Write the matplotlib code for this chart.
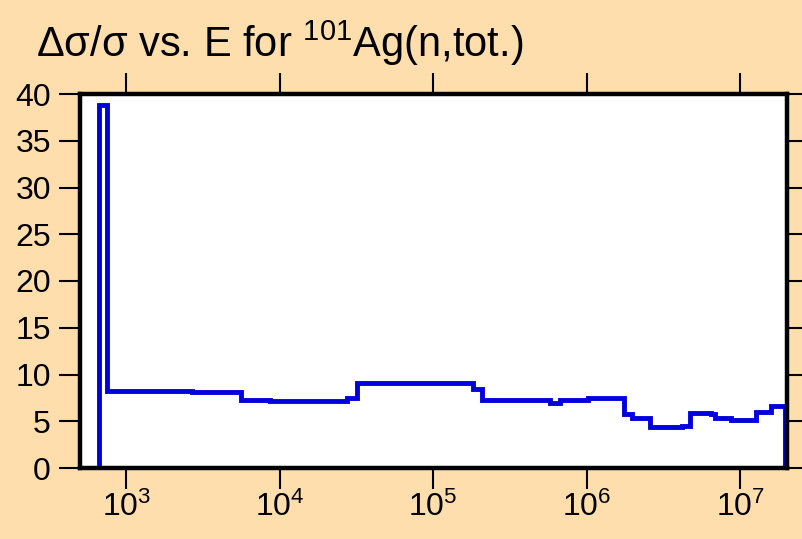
import matplotlib
matplotlib.use("Agg")
import matplotlib.pyplot as plt
import numpy as np

plt.rcParams['font.family'] = ['Liberation Sans', 'DejaVu Sans']
plt.rcParams['mathtext.fontset'] = 'custom'
plt.rcParams['mathtext.rm'] = 'Liberation Sans'
plt.rcParams['mathtext.it'] = 'Liberation Sans:italic'
plt.rcParams['mathtext.bf'] = 'Liberation Sans:bold'
plt.rcParams['mathtext.default'] = 'regular'

# Bin edges (eV) and relative uncertainty (%) per bin
energy_edges = [660, 755, 2680, 5600, 8660, 27400, 31800, 182000, 207000,
                575000, 670000, 1.02e6, 1.75e6, 1.96e6, 2.58e6, 4.15e6,
                4.70e6, 6.50e6, 6.83e6, 8.78e6, 1.277e7, 1.60e7, 1.97e7]
rel_unc = [38.8, 8.2, 8.1, 7.28, 7.2, 7.5, 9.1, 8.4,
           7.28, 7.0, 7.28, 7.45, 5.82, 5.39, 4.39, 4.53,
           5.93, 5.75, 5.39, 5.11, 6.03, 6.64]

yticks = [0, 5, 10, 15, 20, 25, 30, 35, 40]
xticks = [1e3, 1e4, 1e5, 1e6, 1e7]

bg = '#ffdead'
fig = plt.figure(figsize=(8.03, 5.39), dpi=100, facecolor=bg)
ax = fig.add_axes([80/803, 1-468/539, (787-80)/803, (468-94)/539])
ax.set_facecolor('white')

ax.stairs(rel_unc, energy_edges, baseline=0, color='#0000dd', linewidth=3.5)

ax.set_xscale('log')
ax.set_xlim(500, 2.02e7)
ax.set_ylim(0, 40)
ax.set_yticks(yticks)
ax.set_xticks(xticks)
ax.xaxis.set_minor_locator(matplotlib.ticker.NullLocator())

for s in ax.spines.values():
    s.set_linewidth(3.2)
    s.set_color('black')

ax.tick_params(axis='both', which='major', direction='out', length=15, width=1.5,
               labelsize=23, top=True, right=True, labeltop=False, labelright=False,
               color='black', pad=6)
ax.tick_params(axis='x', pad=2, labelsize=23)

fig.text(36/803, 1-57/539, r'Δσ/σ vs. E for $^{101}$Ag(n,tot.)', fontsize=30,
         ha='left', va='baseline')

fig.savefig('out.png', dpi=100, facecolor=bg)
